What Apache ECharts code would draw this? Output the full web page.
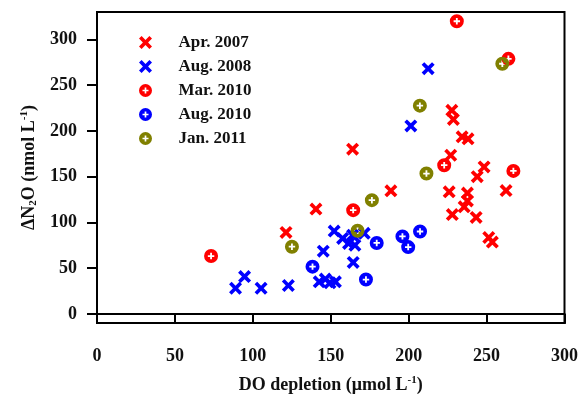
<!DOCTYPE html>
<html>
<head>
<meta charset="utf-8">
<script src="https://cdn.jsdelivr.net/npm/echarts@6/dist/echarts.min.js"></script>
<style>
html,body{margin:0;padding:0;background:#fff;}
#chart{width:581px;height:399px;}
</style>
</head>
<body>
<div id="chart"></div>
<script>
const seriesNames = ['Apr. 2007', 'Aug. 2008', 'Mar. 2010', 'Aug. 2010', 'Jan. 2011'];
const seriesColors = ['#ff0000', '#0000ff', '#ff0000', '#0000ff', '#808000'];

const apr2007 = [
  [121.3, 89], [140.5, 114.5], [164, 180], [188.6, 134.5], [227.7, 222.5],
  [228.7, 212.6], [234.3, 193.5], [238.1, 191.3], [227, 173.4], [248.4, 160.6],
  [244, 150], [226, 133.4], [237.7, 132], [237.7, 123.5], [235.6, 117],
  [228, 108.5], [243.3, 105.4], [251.4, 83.5], [253.7, 78.5], [262.5, 134.8]
];
const aug2008 = [
  [212.5, 268], [201.4, 205.4], [152.2, 90.5], [157.6, 82.5], [161.4, 77],
  [164, 86], [165.5, 75], [171.5, 88], [145.2, 68.5], [164.4, 56.2],
  [94.7, 40.7], [88.9, 28], [105.3, 28], [122.8, 31], [142.6, 35],
  [146.5, 38], [149.5, 34], [153, 35]
];
const mar2010 = [
  [73.2, 63.2], [164.4, 113.4], [222.8, 162.5], [267.2, 156.3], [264, 278.8], [230.9, 319.9]
];
const aug2010 = [
  [138.3, 51.6], [172.6, 37.5], [179.5, 77.5], [196, 84.7], [199.7, 73], [207.3, 90]
];
const jan2011 = [
  [125.1, 73.4], [167.2, 90.8], [176.4, 124.3], [211.4, 153.4], [207.2, 227.6], [260.1, 273.4]
];
const xTicks = [0, 50, 100, 150, 200, 250, 300];
const yTicks = [0, 50, 100, 150, 200, 250, 300];

const seriesData = [apr2007, aug2008, mar2010, aug2010, jan2011];

const crossPath = 'path://M4,0 L10,6 L16,0 L20,4 L14,10 L20,16 L16,20 L10,14 L4,20 L0,16 L6,10 L0,4 Z';
const circlePlusPath = 'path://M0,-10 A10,10 0 1,1 0,10 A10,10 0 1,1 0,-10 Z ' +
  'M-1.3,-4.6 L-1.3,-1.3 L-4.6,-1.3 L-4.6,1.3 L-1.3,1.3 L-1.3,4.6 L1.3,4.6 L1.3,1.3 L4.6,1.3 L4.6,-1.3 L1.3,-1.3 L1.3,-4.6 Z';
const symbols = [crossPath, crossPath, circlePlusPath, circlePlusPath, circlePlusPath];

const font = 'Liberation Serif';
const chart = echarts.init(document.getElementById('chart'), null, {renderer: 'canvas'});

chart.setOption({
  animation: false,
  backgroundColor: '#fff',
  grid: {
    left: 97, right: 16, top: 12, bottom: 76,
    show: true, borderColor: '#000', borderWidth: 2, backgroundColor: 'transparent'
  },
  legend: {
    orient: 'vertical',
    left: 134, top: 29,
    itemWidth: 56, itemHeight: 13, itemGap: 7,
    textStyle: {fontFamily: font, fontWeight: 'bold', fontSize: 17, color: '#111'},
    data: seriesNames
  },
  xAxis: {
    type: 'value', min: 0, max: 300, interval: 50,
    name: '{a|DO depletion (μmol L}{s|-1}{a|)}',
    nameLocation: 'middle', nameGap: 52,
    nameTextStyle: {
      rich: {
        a: {fontFamily: font, fontWeight: 'bold', fontSize: 18, color: '#111', lineHeight: 20},
        s: {fontFamily: font, fontWeight: 'bold', fontSize: 11, color: '#111', verticalAlign: 'top', lineHeight: 20}
      }
    },
    axisLine: {lineStyle: {color: '#000', width: 2}},
    axisTick: {show: true, inside: false, length: 10, lineStyle: {color: '#000', width: 2}},
    axisLabel: {fontFamily: font, fontWeight: 'bold', fontSize: 18, color: '#111', margin: 24,
      customValues: xTicks},
    splitLine: {show: false}
  },
  yAxis: {
    type: 'value', min: -10, max: 330,
    name: '{a|ΔN}{b|2}{a|O (nmol L}{s|-1}{a|)}',
    nameLocation: 'middle', nameGap: 49, nameRotate: 90,
    nameTextStyle: {
      rich: {
        a: {fontFamily: font, fontWeight: 'bold', fontSize: 18, color: '#111', lineHeight: 20},
        b: {fontFamily: font, fontWeight: 'bold', fontSize: 11, color: '#111', verticalAlign: 'bottom', lineHeight: 20},
        s: {fontFamily: font, fontWeight: 'bold', fontSize: 11, color: '#111', verticalAlign: 'top', lineHeight: 20}
      }
    },
    axisLine: {show: true, lineStyle: {color: '#000', width: 2}},
    axisTick: {show: true, inside: false, length: 10, lineStyle: {color: '#000', width: 2},
      customValues: yTicks},
    axisLabel: {fontFamily: font, fontWeight: 'bold', fontSize: 18, color: '#111', margin: 20,
      customValues: yTicks},
    splitLine: {show: false}
  },
  series: seriesNames.map((name, i) => ({
    name: name,
    type: 'scatter',
    data: seriesData[i],
    symbol: symbols[i],
    symbolSize: i < 2 ? 13 : 14,
    itemStyle: {color: seriesColors[i], opacity: 1},
    emphasis: {disabled: true},
    z: 2 + i
  }))
});
</script>
</body>
</html>
